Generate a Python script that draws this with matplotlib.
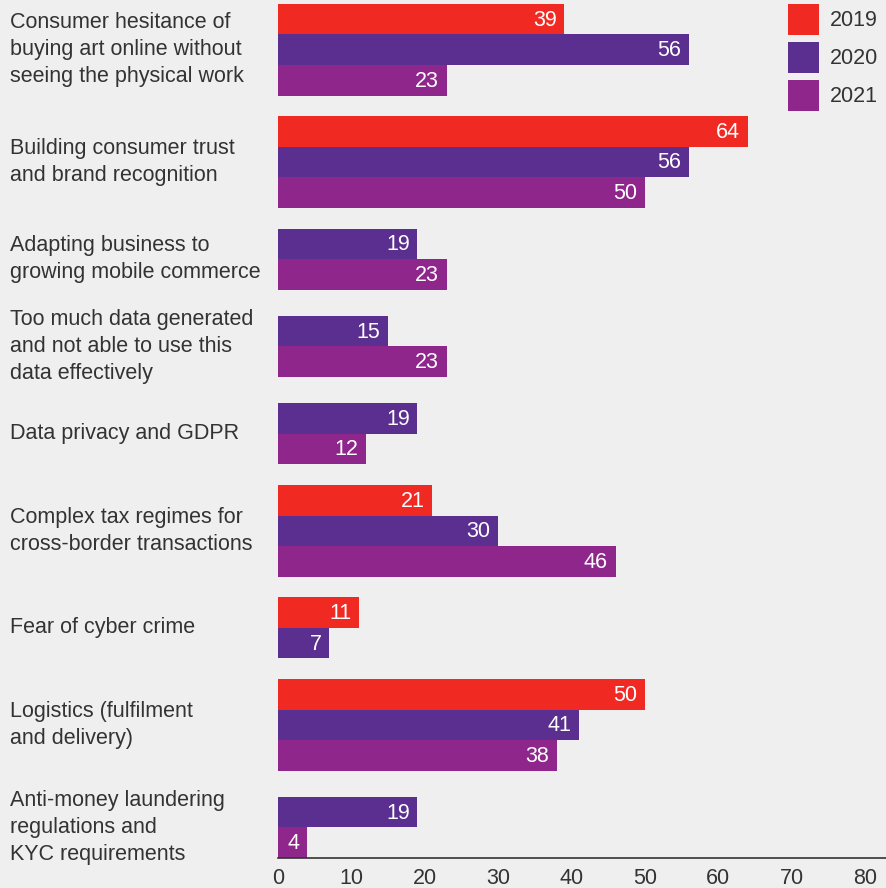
import matplotlib
matplotlib.use("Agg")
import matplotlib.pyplot as plt
from matplotlib.patches import Rectangle

categories = [
    "Consumer hesitance of\nbuying art online without\nseeing the physical work",
    "Building consumer trust\nand brand recognition",
    "Adapting business to\ngrowing mobile commerce",
    "Too much data generated\nand not able to use this\ndata effectively",
    "Data privacy and GDPR",
    "Complex tax regimes for\ncross-border transactions",
    "Fear of cyber crime",
    "Logistics (fulfilment\nand delivery)",
    "Anti-money laundering\nregulations and\nKYC requirements",
]
years = ["2019", "2020", "2021"]
v2019 = [39, 64, None, None, None, 21, 11, 50, None]
v2020 = [56, 56, 19, 15, 19, 30, 7, 41, 19]
v2021 = [23, 50, 23, 23, 12, 46, None, 38, 4]
colors = ["#f02a23", "#5b2f8f", "#8e268c"]
xticks = [0, 10, 20, 30, 40, 50, 60, 70, 80]

BG = "#efefef"
TXT = "#333333"
FS = 15.5
plt.rcParams["font.family"] = ["Liberation Sans", "DejaVu Sans"]

fig = plt.figure(figsize=(8.86, 8.88), dpi=100, facecolor=BG)
ax = fig.add_axes([278 / 886, 30 / 888, 608 / 886, 858 / 888], facecolor=BG)

bar_h = 1.0
gap = 0.68
line_h = 0.787
y = 0.13
for i, cat in enumerate(categories):
    vals = [(c, v) for c, v in zip(colors, (v2019[i], v2020[i], v2021[i])) if v is not None]
    n = len(vals)
    lines = cat.count("\n") + 1
    block = max(n * bar_h, lines * line_h)
    top = y + (block - n * bar_h) / 2
    for j, (c, v) in enumerate(vals):
        yc = top + j * bar_h + bar_h / 2
        ax.barh(yc, v, height=bar_h, color=c, linewidth=0)
        ax.text(v - 1.05, yc + 0.03, str(v), color="white", fontsize=FS,
                ha="right", va="center")
    center = y + block / 2
    ax.text(-36.5, center, cat, ha="left", va="center", fontsize=FS,
            color=TXT, linespacing=1.36, clip_on=False)
    last_bottom = top + n * bar_h
    y += block + gap

ax.set_ylim(last_bottom, 0)
ax.set_xlim(0, 608 / 7.34)
ax.set_yticks([])
ax.set_xticks(xticks)
ax.set_xticklabels([str(t) for t in xticks], fontsize=FS, color=TXT)
ax.tick_params(axis="x", length=0, pad=7)
for s in ("top", "right", "left"):
    ax.spines[s].set_visible(False)
ax.spines["bottom"].set_color("#333333")
ax.spines["bottom"].set_linewidth(1.2)

# legend as squares at the top right
for k, (yr, c) in enumerate(zip(years, colors)):
    fig.patches.append(Rectangle((788 / 886, 1 - (4 + 38 * k + 31) / 888), 31 / 886, 31 / 888,
                                 transform=fig.transFigure, color=c, linewidth=0))
    fig.text(830 / 886, 1 - (20 + 38 * k) / 888, yr, fontsize=FS, color=TXT,
             ha="left", va="center")

fig.savefig("out.png", dpi=100, facecolor=BG)
